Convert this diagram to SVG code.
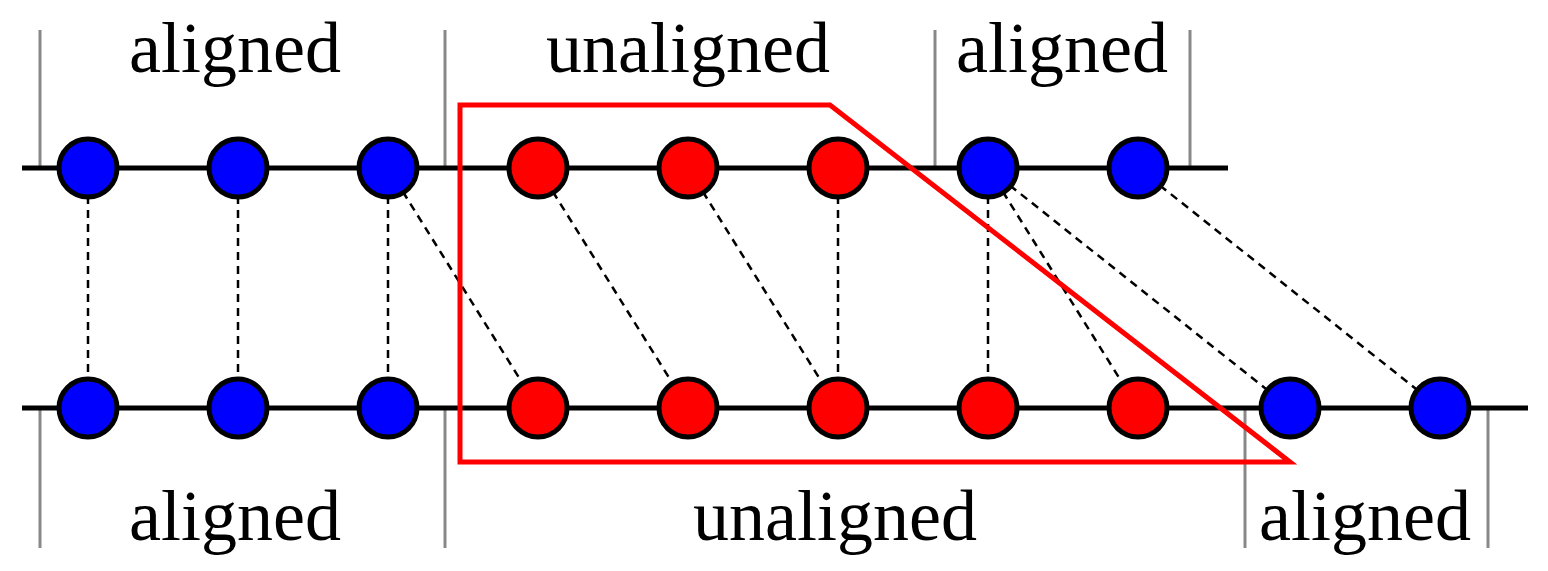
<svg xmlns="http://www.w3.org/2000/svg" width="1548" height="571" viewBox="0 0 1548 571">
<style>
.t{font-family:"Liberation Serif",serif;font-size:72px;text-anchor:middle;fill:#000}
.tick{stroke:#888;stroke-width:3}
.line{stroke:#000;stroke-width:5}
.d{stroke:#000;stroke-width:2.5;stroke-dasharray:8,6}
.b{fill:#0000ff;stroke:#000;stroke-width:5}
.r{fill:#ff0000;stroke:#000;stroke-width:5}
</style>
<rect width="1548" height="571" fill="#fff"/>
<g id="ticks">
<line class="tick" x1="40" y1="30" x2="40" y2="168"/><line class="tick" x1="445" y1="30" x2="445" y2="168"/>
<line class="tick" x1="935" y1="30" x2="935" y2="168"/><line class="tick" x1="1190" y1="30" x2="1190" y2="168"/>
<line class="tick" x1="40" y1="408" x2="40" y2="548"/><line class="tick" x1="445" y1="408" x2="445" y2="548"/>
<line class="tick" x1="1245" y1="408" x2="1245" y2="548"/><line class="tick" x1="1488" y1="408" x2="1488" y2="548"/>
</g>
<g id="labels">
<text class="t" x="235" y="72">aligned</text><text class="t" x="688" y="72">unaligned</text><text class="t" x="1062" y="72">aligned</text>
<text class="t" x="235" y="540">aligned</text><text class="t" x="835" y="540">unaligned</text><text class="t" x="1365" y="540">aligned</text>
</g>
<g id="connectors">
<line class="line" x1="22" y1="168" x2="1228" y2="168"/>
<line class="line" x1="22" y1="408" x2="1528" y2="408"/>
<line class="d" x1="88" y1="168" x2="88" y2="408"/><line class="d" x1="238" y1="168" x2="238" y2="408"/>
<line class="d" x1="388" y1="168" x2="388" y2="408"/><line class="d" x1="388" y1="168" x2="538" y2="408"/>
<line class="d" x1="538" y1="168" x2="688" y2="408"/><line class="d" x1="688" y1="168" x2="838" y2="408"/>
<line class="d" x1="838" y1="168" x2="838" y2="408"/><line class="d" x1="988" y1="168" x2="988" y2="408"/>
<line class="d" x1="988" y1="168" x2="1138" y2="408"/><line class="d" x1="988" y1="168" x2="1290" y2="408"/>
<line class="d" x1="1138" y1="168" x2="1440" y2="408"/>
</g>
<g id="top">
<circle id="t1" class="b" cx="88" cy="168" r="29"/><circle id="t2" class="b" cx="238" cy="168" r="29"/>
<circle id="t3" class="b" cx="388" cy="168" r="29"/><circle id="t4" class="r" cx="538" cy="168" r="29"/>
<circle id="t5" class="r" cx="688" cy="168" r="29"/><circle id="t6" class="r" cx="838" cy="168" r="29"/>
<circle id="t7" class="b" cx="988" cy="168" r="29"/><circle id="t8" class="b" cx="1138" cy="168" r="29"/>
</g>
<g id="bottom">
<circle id="b1" class="b" cx="88" cy="408" r="29"/><circle id="b2" class="b" cx="238" cy="408" r="29"/>
<circle id="b3" class="b" cx="388" cy="408" r="29"/><circle id="b4" class="r" cx="538" cy="408" r="29"/>
<circle id="b5" class="r" cx="688" cy="408" r="29"/><circle id="b6" class="r" cx="838" cy="408" r="29"/>
<circle id="b7" class="r" cx="988" cy="408" r="29"/><circle id="b8" class="r" cx="1138" cy="408" r="29"/>
<circle id="b9" class="b" cx="1290" cy="408" r="29"/><circle id="b10" class="b" cx="1440" cy="408" r="29"/>
</g>
<g id="region">
<polygon points="460,105 830,105 1290,462 460,462" fill="none" stroke="#ff0000" stroke-width="5"/>
</g>
</svg>
